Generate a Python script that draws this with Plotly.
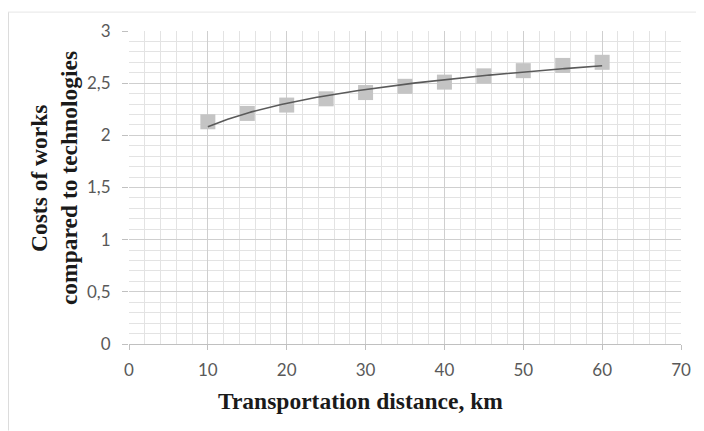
import numpy as np
import plotly.graph_objects as go

# Data
distance_km = [10, 15, 20, 25, 30, 35, 40, 45, 50, 55, 60]
cost_ratio = [2.13, 2.21, 2.29, 2.35, 2.41, 2.47, 2.51, 2.57, 2.62, 2.67, 2.70]

x_title = "Transportation distance, km"
y_title_lines = ["Costs of works", "compared to technologies"]

# Logarithmic trend line fitted to the data (as in the original spreadsheet)
a, b = np.polyfit(np.log(distance_km), cost_ratio, 1)
trend_x = np.linspace(min(distance_km), max(distance_km), 200)
trend_y = a * np.log(trend_x) + b

# page body has an 8px margin, so figure coords = window coords - 8
OFF = 8
L, R, T, B = 129 - OFF, 704 - (681 - OFF), 29 - OFF, 431 - (344 - OFF)
PW, PH = 681 - 129, 344 - 29

fig = go.Figure()
fig.add_trace(go.Scatter(
    x=distance_km, y=cost_ratio, mode="markers",
    marker=dict(symbol="square", size=15, color="#c4c4c4", line=dict(width=0)),
    showlegend=False, hoverinfo="x+y"))
fig.add_trace(go.Scatter(
    x=trend_x, y=trend_y, mode="lines",
    line=dict(color="#5a5a5a", width=1.6),
    showlegend=False, hoverinfo="skip"))

tick_font = dict(family="Lato, 'Open Sans', sans-serif", size=17, color="#595959")
serif = "'Liberation Serif', 'Times New Roman', serif"

annotations = [
    dict(text="<b>" + x_title + "</b>", xref="paper", yref="paper",
         x=(360 - 129) / PW, y=0,
         xanchor="center", yanchor="middle", yshift=-57, showarrow=False,
         font=dict(family=serif, size=23.5, color="#1a1a1a")),
]
for line_text, cx in zip(y_title_lines, [39, 69]):
    annotations.append(dict(
        text="<b>" + line_text + "</b>", xref="paper", yref="paper",
        x=(cx - 129) / PW, y=(344 - 177) / PH, xanchor="center", yanchor="middle",
        showarrow=False, textangle=-90,
        font=dict(family=serif, size=23.5, color="#1a1a1a")))

fig.update_layout(
    width=704, height=431,
    margin=dict(l=L, r=R, t=T, b=B),
    paper_bgcolor="white", plot_bgcolor="white",
    separators=", ",
    xaxis=dict(
        range=[0, 70], dtick=10, tick0=0,
        showgrid=True, gridcolor="#cfcfcf", gridwidth=1,
        minor=dict(dtick=2, showgrid=True, gridcolor="#e3e3e3", gridwidth=1),
        showline=True, linecolor="#c0c0c0", linewidth=1,
        ticks="outside", ticklen=5, tickcolor="#c0c0c0",
        zeroline=False, tickfont=tick_font, ticklabelstandoff=6,
    ),
    yaxis=dict(
        range=[0, 3], dtick=0.5, tick0=0,
        showgrid=True, gridcolor="#cfcfcf", gridwidth=1,
        minor=dict(dtick=0.1, showgrid=True, gridcolor="#e3e3e3", gridwidth=1),
        showline=False,
        ticks="outside", ticklen=6, tickcolor="#c0c0c0",
        zeroline=False, tickfont=tick_font, ticklabelstandoff=8,
    ),
    annotations=annotations,
)

# light outer frame (left and top edges of the original chart area)
fx = -(129 - 8) / PW
fy = (344 - 10) / PH
fig.add_shape(type="line", xref="paper", yref="paper",
              x0=fx, x1=fx, y0=-(431 - 344) / PH, y1=fy,
              line=dict(color="#d0d0d0", width=1.5))
fig.add_shape(type="line", xref="paper", yref="paper",
              x0=fx, x1=(704 - 129) / PW, y0=fy, y1=fy,
              line=dict(color="#e6e6e6", width=1))

fig.write_html("out.html")
